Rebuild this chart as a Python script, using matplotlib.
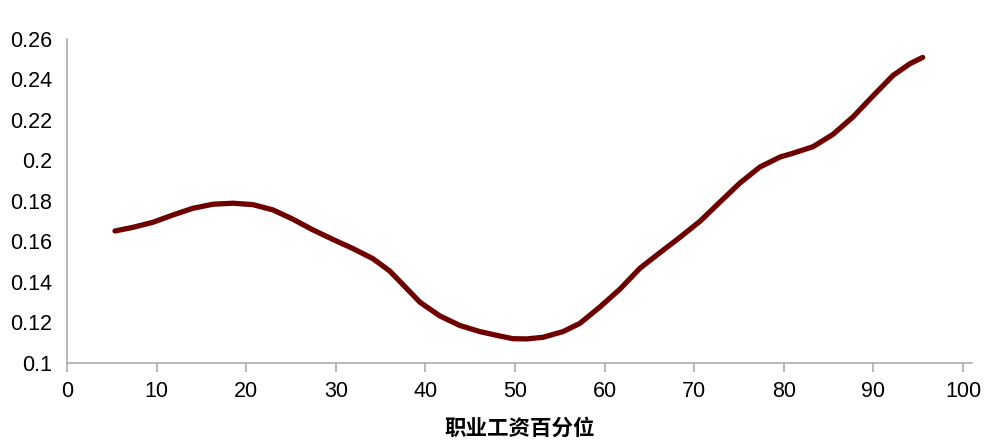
import matplotlib
matplotlib.use('Agg')
import matplotlib.pyplot as plt

# values
pct = [5.36, 7.37, 9.60, 11.83, 14.06, 16.29, 18.53, 20.76, 22.99, 25.22,
       27.46, 29.69, 31.92, 34.15, 36.00, 37.17, 39.40, 41.63, 43.86, 46.09,
       48.33, 49.78, 51.34, 53.13, 55.36, 57.25, 59.49, 61.72, 63.95, 66.18,
       68.42, 70.65, 72.88, 75.11, 77.34, 79.58, 81.03, 83.26, 85.49, 87.72,
       89.96, 92.19, 94.08, 95.50]
vals = [0.1652, 0.1670, 0.1695, 0.1731, 0.1764, 0.1784, 0.1789, 0.1782, 0.1756,
        0.1710, 0.1657, 0.1610, 0.1565, 0.1515, 0.1455, 0.1402, 0.1300, 0.1232,
        0.1185, 0.1155, 0.1133, 0.1120, 0.1119, 0.1127, 0.1155, 0.1196, 0.1277,
        0.1365, 0.1468, 0.1545, 0.1621, 0.1700, 0.1795, 0.1889, 0.1968, 0.2017,
        0.2036, 0.2068, 0.2129, 0.2215, 0.2319, 0.2420, 0.2478, 0.2509]
xticks = [0, 10, 20, 30, 40, 50, 60, 70, 80, 90, 100]
yticks = [0.1, 0.12, 0.14, 0.16, 0.18, 0.2, 0.22, 0.24, 0.26]
ylabels = ['0.1', '0.12', '0.14', '0.16', '0.18', '0.2', '0.22', '0.24', '0.26']

plt.rcParams['font.family'] = ['Liberation Sans', 'DejaVu Sans']

fig = plt.figure(figsize=(9.98, 4.4), dpi=100)
ax = fig.add_axes([0.0671, 0.175, 0.9068, 0.7364])

ax.plot(pct, vals, color='#6e0000', lw=3.8, solid_capstyle='round',
        solid_joinstyle='round')

ax.set_xlim(0, 101)
ax.set_ylim(0.1, 0.26)
ax.set_xticks(xticks)
ax.set_yticks(yticks)
ax.set_yticklabels(ylabels)

for s in ['top', 'right']:
    ax.spines[s].set_visible(False)
for s in ['left', 'bottom']:
    ax.spines[s].set_color('#a6a6a6')
    ax.spines[s].set_linewidth(1.1)

ax.tick_params(axis='x', direction='out', length=6.5, width=1.1,
               color='#a6a6a6', labelsize=15.5, pad=6.5)
ax.tick_params(axis='y', length=0, labelsize=15.5, pad=10.5)

ax.set_xlabel('职业工资百分位', family=['Noto Sans CJK SC', 'DejaVu Sans'],
              fontsize=15.5, fontweight='bold', labelpad=11)

fig.savefig('out.png', dpi=100)
